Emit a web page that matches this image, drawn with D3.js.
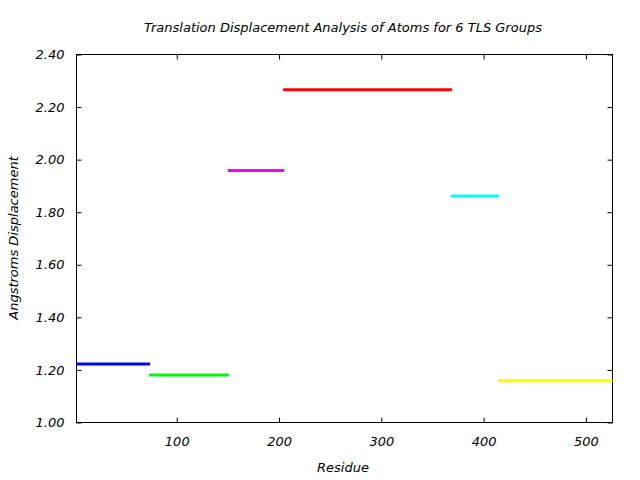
<!DOCTYPE html>
<html>
<head>
<meta charset="utf-8">
<script src="https://cdn.jsdelivr.net/npm/d3@7"></script>
<style>
  body { margin: 0; background: #fff; }
  text { font-family: "DejaVu Sans", sans-serif; font-style: italic; }
</style>
</head>
<body>
<div id="chart"></div>
<script>
// TLS groups: residue ranges and translation displacement
const groupStart = [2, 73, 150, 204, 368, 414];
const groupEnd = [74, 151, 205, 369, 415, 526];
const displacement = [1.223, 1.181, 1.959, 2.266, 1.862, 1.159];
const groupColors = ["#0000ff", "#00ff00", "#ff00ff", "#ff0000", "#00ffff", "#ffff00"];
const xTicks = [100, 200, 300, 400, 500];
const yTicks = [1.0, 1.2, 1.4, 1.6, 1.8, 2.0, 2.2, 2.4];

let width = 640, height = 480;
const margin = {top: 54, right: 28, bottom: 58, left: 76};
const w = width - margin.left - margin.right;
const h = height - margin.top - margin.bottom;

const svg = d3.select("#chart").append("svg")
    .attr("width", width)
    .attr("height", height);

const g = svg.append("g")
    .attr("transform", `translate(${margin.left + 0.5},${margin.top + 0.5})`);

const x = d3.scaleLinear().domain([2, 526]).range([0, w]);
const y = d3.scaleLinear().domain([1.0, 2.4]).range([h, 0]);

// axes, ticks pointing inward, mirrored on top and right
const fmt = d3.format(".2f");
g.append("g").attr("transform", `translate(0,${h})`)
    .call(d3.axisBottom(x).tickValues(xTicks).tickSizeInner(-5).tickSizeOuter(0).tickPadding(14));
g.append("g")
    .call(d3.axisTop(x).tickValues(xTicks).tickSizeInner(-5).tickSizeOuter(0).tickFormat(""));
g.append("g")
    .call(d3.axisLeft(y).tickValues(yTicks).tickFormat(fmt).tickSizeInner(-5).tickSizeOuter(0).tickPadding(12));
g.append("g").attr("transform", `translate(${w},0)`)
    .call(d3.axisRight(y).tickValues(yTicks).tickSizeInner(-5).tickSizeOuter(0).tickFormat(""));

g.selectAll(".domain").remove();
g.selectAll(".tick line").attr("stroke", "#000");
g.selectAll(".tick text").attr("font-size", 13).attr("fill", "#000");

g.append("rect")
    .attr("width", w).attr("height", h)
    .attr("fill", "none").attr("stroke", "#000").attr("stroke-width", 1);

// group segments
g.selectAll("line.seg")
    .data(displacement)
    .enter().append("line")
    .attr("class", "seg")
    .attr("x1", (d, i) => x(groupStart[i]))
    .attr("x2", (d, i) => x(groupEnd[i]))
    .attr("y1", d => y(d))
    .attr("y2", d => y(d))
    .attr("stroke", (d, i) => groupColors[i])
    .attr("stroke-width", 3);

svg.append("text")
    .attr("x", 343).attr("y", 32)
    .attr("text-anchor", "middle").attr("font-size", 13)
    .text("Translation Displacement Analysis of Atoms for 6 TLS Groups");

svg.append("text")
    .attr("x", 343).attr("y", 472)
    .attr("text-anchor", "middle").attr("font-size", 13)
    .text("Residue");

svg.append("text")
    .attr("transform", "translate(18,238) rotate(-90)")
    .attr("text-anchor", "middle").attr("font-size", 13)
    .text("Angstroms Displacement");
</script>
</body>
</html>
